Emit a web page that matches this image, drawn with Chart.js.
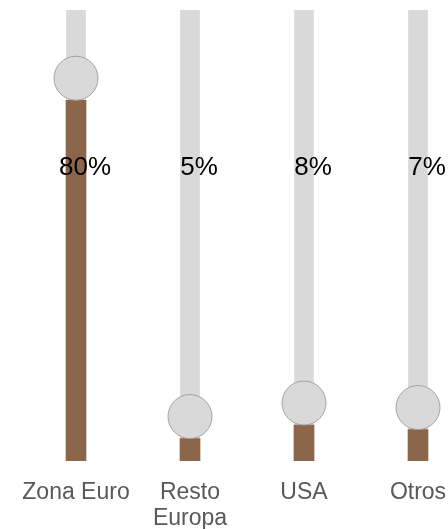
<!DOCTYPE html>
<html>
<head>
<meta charset="utf-8">
<script src="https://cdn.jsdelivr.net/npm/chart.js@4/dist/chart.umd.min.js"></script>
<style>
  html, body { margin: 0; padding: 0; background: #fff; overflow: hidden; }
  #wrap { width: 494px; height: 548px; }
</style>
</head>
<body>
<div id="wrap"><canvas id="barChart"></canvas></div>
<script>
const regiones = ['Zona Euro', ['Resto', 'Europa'], 'USA', 'Otros'];
const porcentajes = [80, 5, 8, 7];
const fondo = [100, 100, 100, 100];

// value labels sit on a common level
const nivelEtiqueta = 65;
const radioBola = 22;

const bolasYEtiquetas = {
    id: 'bolasYEtiquetas',
    afterDatasetsDraw(chart) {
        const ctx = chart.ctx;
        const meta = chart.getDatasetMeta(0);
        const yEtiqueta = chart.scales.y.getPixelForValue(nivelEtiqueta);
        ctx.save();
        meta.data.forEach((bar, i) => {
            // knob resting on top of each bar
            ctx.beginPath();
            ctx.arc(bar.x, bar.y - radioBola, radioBola, 0, Math.PI * 2);
            ctx.fillStyle = '#d9d9d9';
            ctx.fill();
            ctx.lineWidth = 1;
            ctx.strokeStyle = '#a3a3a3';
            ctx.stroke();
        });
        ctx.fillStyle = '#000';
        ctx.font = '26px "Liberation Sans", Arial, sans-serif';
        ctx.textAlign = 'center';
        ctx.textBaseline = 'middle';
        meta.data.forEach((bar, i) => {
            ctx.fillText(porcentajes[i] + '%', bar.x + 9, yEtiqueta);
        });
        ctx.restore();
    }
};

const barChartContext = document.getElementById('barChart').getContext('2d');

const barChart = new Chart(barChartContext, {
    type: 'bar',
    data: {
        labels: regiones,
        datasets: [
            {
                label: 'Peso',
                data: porcentajes,
                backgroundColor: '#8b664b',
                barThickness: 20,
                grouped: false
            },
            {
                label: 'Fondo',
                data: fondo,
                backgroundColor: '#d9d9d9',
                barThickness: 19,
                grouped: false
            }
        ]
    },
    options: {
        responsive: true,
        maintainAspectRatio: false,
        animation: false,
        layout: {
            padding: { left: 19, right: 19, top: 10, bottom: 6 }
        },
        plugins: {
            legend: { display: false },
            tooltip: { enabled: false }
        },
        scales: {
            x: {
                grid: { display: false },
                border: { display: false },
                ticks: {
                    color: '#595959',
                    padding: 10,
                    maxRotation: 0,
                    autoSkip: false,
                    font: { family: '"Liberation Sans", Arial, sans-serif', size: 23, lineHeight: 1.15 }
                }
            },
            y: {
                display: false,
                min: 0,
                max: 100
            }
        }
    },
    plugins: [bolasYEtiquetas]
});
</script>
</body>
</html>
